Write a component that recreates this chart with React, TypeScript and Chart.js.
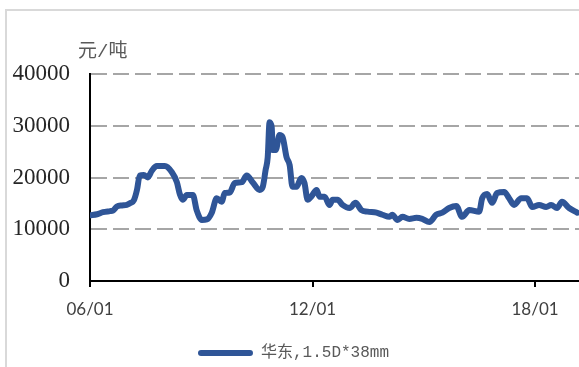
import React, { useEffect, useRef } from "react";
import { Chart, registerables } from "chart.js";

Chart.register(...registerables);

// Months elapsed since 2006-01
const monthOffsets = [
  0, 2.3, 4.2, 6.5, 7.4, 8.7, 10.3, 11.9, 13.2, 14.2, 15.2, 16.1, 17.4, 18.7, 20.0, 21.6, 24.2, 26.5, 28.1, 29.1,
  30.0, 31.3, 33.3, 34.5, 36.2, 37.8, 39.4, 41.0, 42.6, 43.6, 45.2, 46.8, 49.1, 50.7, 52.6, 54.9, 55.9, 56.8, 57.5, 58.1,
  58.8, 59.1, 60.1, 61.3, 62.3, 63.6, 64.6, 65.5, 66.8, 68.4, 69.4, 70.4, 71.7, 73.3, 74.3, 75.9, 77.5, 78.5, 80.1, 81.7,
  84.0, 85.9, 87.8, 89.8, 92.7, 94.6, 96.9, 97.8, 99.5, 101.1, 103.3, 105.6, 107.5, 109.8, 112.0, 114.0, 116.2, 118.5, 120.4, 122.7,
  125.9, 126.9, 128.5, 130.1, 131.7, 134.0, 135.6, 137.2, 139.5, 141.4, 143.1, 145.3, 147.6, 149.2, 151.1, 152.7, 155.0, 157.6,
];

// 元/吨
const prices = [
  12700, 12900, 13300, 13500, 13600, 14400, 14600, 14700, 15100, 15600, 17600, 20400, 20500, 20000, 21300, 22200, 22200, 21000, 19100, 16700,
  15700, 16600, 16600, 13700, 11800, 11900, 13200, 16000, 15300, 17000, 17100, 18900, 19100, 20400, 19100, 17600, 18200, 21400, 23900, 30700,
  29700, 25300, 25300, 28200, 27800, 23900, 22400, 18200, 18200, 19900, 18900, 15700, 16400, 17600, 16300, 16300, 14700, 15700, 15700, 14700,
  14100, 15100, 13700, 13400, 13200, 12800, 12400, 12800, 11800, 12400, 12000, 12200, 12000, 11400, 12800, 13200, 14100, 14500, 12400, 13700,
  13400, 16000, 16800, 15100, 17000, 17200, 16000, 14700, 16000, 16000, 14300, 14700, 14300, 14700, 14100, 15300, 14100, 13200,
];

const seriesLabel = "华东,1.5D*38mm";
const unitLabel = "元/吨";
const xTickValues = [0, 72, 144];
const xTickLabels = ["06/01", "12/01", "18/01"];
const yTickValues = [0, 10000, 20000, 30000, 40000];

const LINE_COLOR = "#2F5597";

export default function App() {
  const canvasRef = useRef<HTMLCanvasElement>(null);

  useEffect(() => {
    const canvas = canvasRef.current;
    if (!canvas) return;

    const unitPlugin = {
      id: "unitLabel",
      afterDraw(chart: any) {
        const ctx = chart.ctx;
        ctx.save();
        ctx.font = '19px "Liberation Mono", "Noto Sans CJK SC"';
        ctx.fillStyle = "#595959";
        ctx.textAlign = "left";
        ctx.textBaseline = "middle";
        ctx.fillText(unitLabel, 78, 52);
        ctx.restore();
      },
    };

    const chart = new Chart(canvas, {
      type: "line",
      data: {
        datasets: [
          {
            label: seriesLabel,
            data: monthOffsets.map((m, i) => ({ x: m, y: prices[i] })),
            borderColor: LINE_COLOR,
            backgroundColor: LINE_COLOR,
            borderWidth: 6,
            pointRadius: 0,
            cubicInterpolationMode: "monotone",
            borderJoinStyle: "round",
            borderCapStyle: "round",
          },
        ],
      },
      options: {
        animation: false,
        responsive: false,
        layout: { padding: { top: 74, left: 0, right: 0, bottom: 0 } },
        scales: {
          x: {
            type: "linear",
            min: 0,
            max: 160.8,
            afterBuildTicks: (s: any) => {
              s.ticks = xTickValues.map((v) => ({ value: v }));
            },
            afterFit: (s: any) => {
              s.height = 54;
            },
            ticks: {
              callback: (v: any) => {
                const i = xTickValues.indexOf(Number(v));
                return i >= 0 ? xTickLabels[i] : "";
              },
              font: { family: "Lato", size: 17 },
              color: "#404040",
              padding: 12,
              maxRotation: 0,
              autoSkip: false,
            },
            grid: {
              drawOnChartArea: false,
              drawTicks: true,
              tickLength: 6,
              color: "#000000",
              lineWidth: 2,
            },
            border: { color: "#000000", width: 2 },
          },
          y: {
            min: 0,
            max: 40000,
            afterBuildTicks: (s: any) => {
              s.ticks = yTickValues.map((v) => ({ value: v }));
            },
            afterFit: (s: any) => {
              s.width = 90;
            },
            ticks: {
              callback: (v: any) => String(v),
              font: { family: '"Liberation Serif"', size: 23 },
              color: "#262626",
              padding: 20,
            },
            grid: {
              drawTicks: false,
              color: (c: any) => (c.tick && c.tick.value === 0 ? "rgba(0,0,0,0)" : "#a6a6a6"),
              lineWidth: 2,
            },
            border: { color: "#000000", width: 2, dash: [16, 6] },
          },
        },
        plugins: {
          legend: {
            position: "bottom",
            labels: {
              boxWidth: 55,
              boxHeight: 6,
              useBorderRadius: true,
              borderRadius: 3,
              color: "#595959",
              padding: 10,
              font: { family: '"Liberation Mono", "Noto Sans CJK SC"', size: 16 },
              generateLabels: (ch: any) =>
                (Chart.defaults.plugins.legend.labels.generateLabels as any)(ch).map((it: any) => ({
                  ...it,
                  lineWidth: 0,
                  fillStyle: LINE_COLOR,
                  strokeStyle: LINE_COLOR,
                  borderRadius: 3,
                })),
            },
          },
          tooltip: { enabled: false },
        },
      } as any,
      plugins: [unitPlugin],
    });

    return () => chart.destroy();
  }, []);

  return (
    <div style={{ position: "fixed", left: 0, top: 0, width: 579, height: 367, overflow: "hidden", background: "#ffffff" }}>
      <div
        style={{
          position: "absolute",
          left: 5,
          top: 9,
          width: 800,
          height: 600,
          borderLeft: "2px solid #d9d9d9",
          borderTop: "2px solid #d9d9d9",
        }}
      />
      <canvas
        ref={canvasRef}
        width={587}
        height={371}
        style={{ position: "absolute", left: 0, top: 0, width: 587, height: 371 }}
      />
    </div>
  );
}
